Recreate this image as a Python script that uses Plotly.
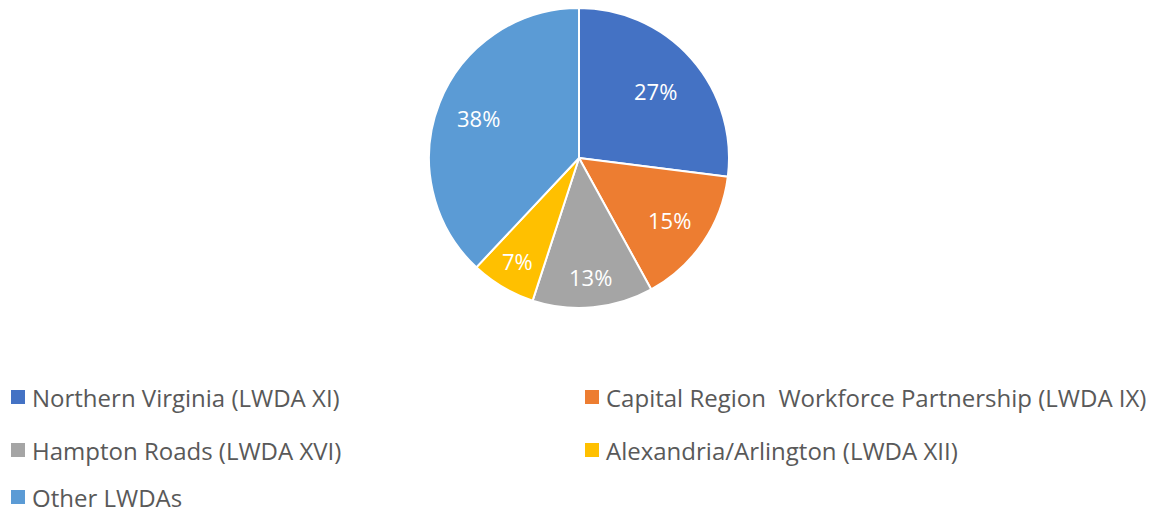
import math
import plotly.graph_objects as go

labels = ["Northern Virginia (LWDA XI)", "Capital Region  Workforce Partnership (LWDA IX)",
          "Hampton Roads (LWDA XVI)", "Alexandria/Arlington (LWDA XII)", "Other LWDAs"]
values = [27, 15, 13, 7, 38]
colors = ["#4472C4", "#ED7D31", "#A5A5A5", "#FFC000", "#5B9BD5"]
label_radius = [0.68, 0.73, 0.80, 0.80, 0.72]  # fraction of pie radius for data labels

OFF = 8  # default page body margin
W, H = 1165 - OFF, 513 - OFF
CX, CY, R = 579 - OFF, 158 - OFF, 150

fig = go.Figure(go.Pie(
    labels=labels, values=values, sort=False, direction="clockwise", rotation=0,
    marker=dict(colors=colors, line=dict(color="white", width=2)),
    textinfo="none", showlegend=False, hoverinfo="label+percent",
    domain=dict(x=[(CX - R) / W, (CX + R) / W], y=[1 - (CY + R) / H, 1 - (CY - R) / H]),
))

# data labels placed along each slice's mid-angle
total = sum(values)
cum = 0
for v, fr in zip(values, label_radius):
    mid = (cum + v / 2) / total * 2 * math.pi
    cum += v
    px = CX + fr * R * math.sin(mid)
    py = CY - fr * R * math.cos(mid)
    fig.add_annotation(xref="paper", yref="paper", x=px / W, y=1 - py / H,
                       xanchor="center", yanchor="middle", showarrow=False,
                       text=f"{round(v / total * 100)}%",
                       font=dict(family="Open Sans, sans-serif", size=22, color="white"))

# manual legend (two columns, row-major order)
col_x = [11 - OFF, 585 - OFF]
row_y = [397 - OFF, 450 - OFF, 497 - OFF]
for i, (lab, col) in enumerate(zip(labels, colors)):
    cx = col_x[i % 2]
    cy = row_y[i // 2]
    fig.add_shape(type="rect", xref="paper", yref="paper",
                  x0=cx / W, x1=(cx + 14) / W, y0=1 - (cy + 7) / H, y1=1 - (cy - 7) / H,
                  fillcolor=col, line=dict(width=0))
    fig.add_annotation(xref="paper", yref="paper", x=(cx + 19) / W, y=1 - cy / H,
                       xanchor="left", yanchor="middle", showarrow=False, text=lab,
                       font=dict(family="Open Sans, sans-serif", size=24, color="#595959"))

fig.update_layout(width=W, height=H, margin=dict(l=0, r=0, t=0, b=0),
                  paper_bgcolor="white", plot_bgcolor="white")
fig.write_html("out.html")
